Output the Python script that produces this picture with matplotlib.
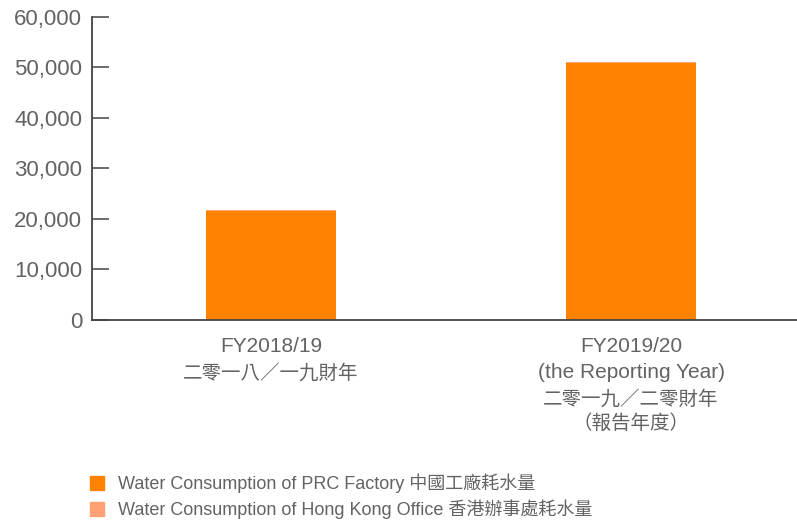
import matplotlib
matplotlib.use("Agg")
import matplotlib.pyplot as plt
from matplotlib.ticker import FuncFormatter
from matplotlib.patches import Rectangle

plt.rcParams['font.family'] = ['Liberation Sans', 'Noto Sans CJK TC', 'DejaVu Sans']

years = [['FY2018/19', '二零一八／一九財年'],
         ['FY2019/20', '(the Reporting Year)', '二零一九／二零財年', '（報告年度）']]
prc_factory = [21590, 50950]
hk_office = [80, 200]
series_names = ['Water Consumption of PRC Factory 中國工廠耗水量',
                'Water Consumption of Hong Kong Office 香港辦事處耗水量']

c_prc = '#FF8300'
c_hk = '#FFA173'
txt = '#636363'
axc = '#444444'

fig = plt.figure(figsize=(7.97, 5.2), dpi=100)
ax = fig.add_axes([92/797, (520-319.5)/520, 705/797, 302.5/520])

x = [0, 1]
ax.bar(x, prc_factory, width=0.361, color=c_prc, linewidth=0)
ax.bar(x, hk_office, width=0.361, bottom=prc_factory, color=c_hk, linewidth=0)

ax.set_xlim(-0.497, 1.461)
ax.set_ylim(0, 60000)
ax.set_yticks(range(0, 60001, 10000))
ax.yaxis.set_major_formatter(FuncFormatter(lambda v, p: f'{int(v):,}'))

for s in ['top', 'right']:
    ax.spines[s].set_visible(False)
for s in ['left', 'bottom']:
    ax.spines[s].set_color(axc)
    ax.spines[s].set_linewidth(1.3)

ax.tick_params(axis='y', direction='in', length=12.5, width=1.1, color=axc,
               labelsize=16, labelcolor=txt, pad=7)
ax.set_xticks(x)
ax.set_xticklabels([])
ax.tick_params(axis='x', length=0)

# category labels, one line at a time (pixel rows below the axis)
rows = [347, 373, 399, 424]
for xi, lines in zip(x, years):
    for k, line in enumerate(lines):
        yy = 1 - rows[k]/520
        fs = 15 if line.isascii() else 14
        fig.text(ax.transData.transform((xi, 0))[0]/797, yy, line,
                 ha='center', va='center', fontsize=fs, color=txt)

# legend drawn by hand below the chart
for i, (name, col) in enumerate(zip(series_names, [c_prc, c_hk])):
    yy = 483 + i * 26
    fig.patches.append(Rectangle((90/797, 1 - (yy + 7)/520), 14/797, 14/520,
                                 transform=fig.transFigure, color=col))
    fig.text(118/797, 1 - yy/520, name, fontsize=13, color=txt, va='center')

fig.savefig('out.png', dpi=100)
